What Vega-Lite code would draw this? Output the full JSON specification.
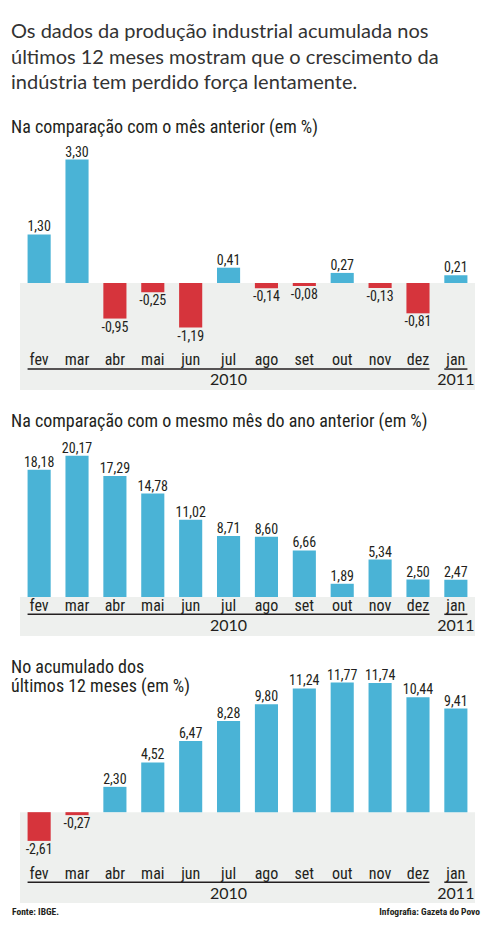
{
  "$schema": "https://vega.github.io/schema/vega-lite/v6.json",
  "padding": {"left": 11, "top": 22, "right": 2, "bottom": 4},
  "background": "white",
  "config": {
    "view": {"stroke": null},
    "locale": {"number": {"decimal": ",", "thousands": ".", "grouping": [3], "currency": ["R$", ""], "minus": "-"}},
    "concat": {"spacing": 23},
    "text": {"font": "Roboto Condensed, DejaVu Sans Condensed, Roboto, sans-serif", "color": "#231f20"}
  },
  "title": {
    "text": ["Os dados da produção industrial acumulada nos", "últimos 12 meses mostram que o crescimento da", "indústria tem perdido força lentamente."],
    "anchor": "start",
    "font": "Lato",
    "fontSize": 20,
    "fontWeight": "normal",
    "color": "#333333",
    "lineHeight": 25.5,
    "offset": 26
  },
  "datasets": {
    "mesAnterior": [
      {"mes": "fev", "valor": 1.30}, {"mes": "mar", "valor": 3.30}, {"mes": "abr", "valor": -0.95},
      {"mes": "mai", "valor": -0.25}, {"mes": "jun", "valor": -1.19}, {"mes": "jul", "valor": 0.41},
      {"mes": "ago", "valor": -0.14}, {"mes": "set", "valor": -0.08}, {"mes": "out", "valor": 0.27},
      {"mes": "nov", "valor": -0.13}, {"mes": "dez", "valor": -0.81}, {"mes": "jan", "valor": 0.21}
    ],
    "mesmoMes": [
      {"mes": "fev", "valor": 18.18}, {"mes": "mar", "valor": 20.17}, {"mes": "abr", "valor": 17.29},
      {"mes": "mai", "valor": 14.78}, {"mes": "jun", "valor": 11.02}, {"mes": "jul", "valor": 8.71},
      {"mes": "ago", "valor": 8.60}, {"mes": "set", "valor": 6.66}, {"mes": "out", "valor": 1.89},
      {"mes": "nov", "valor": 5.34}, {"mes": "dez", "valor": 2.50}, {"mes": "jan", "valor": 2.47}
    ],
    "acumulado": [
      {"mes": "fev", "valor": -2.61}, {"mes": "mar", "valor": -0.27}, {"mes": "abr", "valor": 2.30},
      {"mes": "mai", "valor": 4.52}, {"mes": "jun", "valor": 6.47}, {"mes": "jul", "valor": 8.28},
      {"mes": "ago", "valor": 9.80}, {"mes": "set", "valor": 11.24}, {"mes": "out", "valor": 11.77},
      {"mes": "nov", "valor": 11.74}, {"mes": "dez", "valor": 10.44}, {"mes": "jan", "valor": 9.41}
    ],
    "anos": [
      {"ano": "2010", "inicio": "fev", "fim": "dez", "centro": "jul"},
      {"ano": "2011", "inicio": "jan", "fim": "jan", "centro": "jan"}
    ],
    "rodape": [
      {"lado": "esquerda", "texto": "Fonte: IBGE."},
      {"lado": "direita", "texto": "Infografia: Gazeta do Povo"}
    ]
  },
  "vconcat": [
    {
      "title": {"text": "Na comparação com o mês anterior (em %)", "anchor": "start", "frame": "group", "dx": -9, "font": "Roboto Condensed, DejaVu Sans Condensed, Roboto, sans-serif", "fontSize": 18, "fontWeight": "normal", "color": "#231f20", "offset": 8},
      "width": 455,
      "height": 245,
      "data": {"name": "mesAnterior"},
      "layer": [
        {
          "data": {"values": [{"faixa": "negativos"}]},
          "mark": {"type": "rect", "color": "#eef0ee"},
          "encoding": {
            "y": {"datum": 0, "type": "quantitative", "scale": {"domain": [-2.86, 3.69], "nice": false, "zero": false}, "axis": null},
            "y2": {"datum": -2.86}
          }
        },
        {
          "mark": {"type": "bar"},
          "encoding": {
            "x": {"field": "mes", "type": "nominal", "scale": {"domain": ["fev","mar","abr","mai","jun","jul","ago","set","out","nov","dez","jan"], "paddingInner": 0.39, "paddingOuter": 0.2}, "axis": null},
            "y": {"field": "valor", "type": "quantitative", "scale": {"domain": [-2.86, 3.69], "nice": false, "zero": false}, "axis": null},
            "color": {"condition": {"test": "datum.valor < 0", "value": "#d6343c"}, "value": "#4ab3d6"}
          }
        },
        {
          "transform": [{"filter": "datum.valor >= 0"}],
          "mark": {"type": "text", "baseline": "alphabetic", "dy": -3, "fontSize": 14},
          "encoding": {
            "x": {"field": "mes", "type": "nominal"},
            "y": {"field": "valor", "type": "quantitative"},
            "text": {"field": "valor", "type": "quantitative", "format": ".2f"}
          }
        },
        {
          "transform": [{"filter": "datum.valor < 0"}],
          "mark": {"type": "text", "baseline": "top", "dy": 2, "fontSize": 14},
          "encoding": {
            "x": {"field": "mes", "type": "nominal"},
            "y": {"field": "valor", "type": "quantitative"},
            "text": {"field": "valor", "type": "quantitative", "format": ".2f"}
          }
        },
        {
          "mark": {"type": "text", "baseline": "alphabetic", "fontSize": 16},
          "encoding": {
            "x": {"field": "mes", "type": "nominal"},
            "y": {"datum": -2.19, "type": "quantitative"},
            "text": {"field": "mes", "type": "nominal"}
          }
        },
        {
          "data": {"name": "anos"},
          "mark": {"type": "rule", "strokeWidth": 1.5, "color": "#231f20"},
          "encoding": {
            "x": {"field": "inicio", "type": "nominal", "bandPosition": 0},
            "x2": {"field": "fim", "bandPosition": 1},
            "y": {"datum": -2.30, "type": "quantitative"}
          }
        },
        {
          "data": {"name": "anos"},
          "mark": {"type": "text", "baseline": "alphabetic", "fontSize": 16, "font": "Lato"},
          "encoding": {
            "x": {"field": "centro", "type": "nominal"},
            "y": {"datum": -2.73, "type": "quantitative"},
            "text": {"field": "ano", "type": "nominal"}
          }
        }
      ]
    },
    {
      "title": {"text": "Na comparação com o mesmo mês do ano anterior (em %)", "anchor": "start", "frame": "group", "dx": -9, "font": "Roboto Condensed, DejaVu Sans Condensed, Roboto, sans-serif", "fontSize": 18, "fontWeight": "normal", "color": "#231f20", "offset": 8},
      "width": 455,
      "height": 197,
      "data": {"name": "mesmoMes"},
      "layer": [
        {
          "data": {"values": [{"faixa": "negativos"}]},
          "mark": {"type": "rect", "color": "#eef0ee"},
          "encoding": {
            "y": {"datum": 0, "type": "quantitative", "scale": {"domain": [-5.57, 22.57], "nice": false, "zero": false}, "axis": null},
            "y2": {"datum": -5.57}
          }
        },
        {
          "mark": {"type": "bar"},
          "encoding": {
            "x": {"field": "mes", "type": "nominal", "scale": {"domain": ["fev","mar","abr","mai","jun","jul","ago","set","out","nov","dez","jan"], "paddingInner": 0.39, "paddingOuter": 0.2}, "axis": null},
            "y": {"field": "valor", "type": "quantitative", "scale": {"domain": [-5.57, 22.57], "nice": false, "zero": false}, "axis": null},
            "color": {"condition": {"test": "datum.valor < 0", "value": "#d6343c"}, "value": "#4ab3d6"}
          }
        },
        {
          "transform": [{"filter": "datum.valor >= 0"}],
          "mark": {"type": "text", "baseline": "alphabetic", "dy": -3, "fontSize": 14},
          "encoding": {
            "x": {"field": "mes", "type": "nominal"},
            "y": {"field": "valor", "type": "quantitative"},
            "text": {"field": "valor", "type": "quantitative", "format": ".2f"}
          }
        },
        {
          "mark": {"type": "text", "baseline": "alphabetic", "fontSize": 16},
          "encoding": {
            "x": {"field": "mes", "type": "nominal"},
            "y": {"datum": -2.0, "type": "quantitative"},
            "text": {"field": "mes", "type": "nominal"}
          }
        },
        {
          "data": {"name": "anos"},
          "mark": {"type": "rule", "strokeWidth": 1.5, "color": "#231f20"},
          "encoding": {
            "x": {"field": "inicio", "type": "nominal", "bandPosition": 0},
            "x2": {"field": "fim", "bandPosition": 1},
            "y": {"datum": -2.47, "type": "quantitative"}
          }
        },
        {
          "data": {"name": "anos"},
          "mark": {"type": "text", "baseline": "alphabetic", "fontSize": 16, "font": "Lato"},
          "encoding": {
            "x": {"field": "centro", "type": "nominal"},
            "y": {"datum": -4.86, "type": "quantitative"},
            "text": {"field": "ano", "type": "nominal"}
          }
        }
      ]
    },
    {
      "title": {"text": ["No acumulado dos", "últimos 12 meses (em %)"], "anchor": "start", "frame": "group", "dx": -9, "font": "Roboto Condensed, DejaVu Sans Condensed, Roboto, sans-serif", "fontSize": 18, "fontWeight": "normal", "color": "#231f20", "lineHeight": 19, "offset": -34},
      "width": 455,
      "height": 241,
      "resolve": {"scale": {"x": "independent"}},
      "layer": [
        {
          "data": {"name": "acumulado"},
          "layer": [
            {
              "data": {"values": [{"faixa": "negativos"}]},
              "mark": {"type": "rect", "color": "#eef0ee"},
              "encoding": {
                "y": {"datum": 0, "type": "quantitative", "scale": {"domain": [-8.25, 13.64], "nice": false, "zero": false}, "axis": null},
                "y2": {"datum": -8.25}
              }
            },
            {
              "mark": {"type": "bar"},
              "encoding": {
                "x": {"field": "mes", "type": "nominal", "scale": {"domain": ["fev","mar","abr","mai","jun","jul","ago","set","out","nov","dez","jan"], "paddingInner": 0.39, "paddingOuter": 0.2}, "axis": null},
                "y": {"field": "valor", "type": "quantitative", "scale": {"domain": [-8.25, 13.64], "nice": false, "zero": false}, "axis": null},
                "color": {"condition": {"test": "datum.valor < 0", "value": "#d6343c"}, "value": "#4ab3d6"}
              }
            },
            {
              "transform": [{"filter": "datum.valor >= 0"}],
              "mark": {"type": "text", "baseline": "alphabetic", "dy": -3, "fontSize": 14},
              "encoding": {
                "x": {"field": "mes", "type": "nominal"},
                "y": {"field": "valor", "type": "quantitative"},
                "text": {"field": "valor", "type": "quantitative", "format": ".2f"}
              }
            },
            {
              "transform": [{"filter": "datum.valor < 0"}],
              "mark": {"type": "text", "baseline": "top", "dy": 2, "fontSize": 14},
              "encoding": {
                "x": {"field": "mes", "type": "nominal"},
                "y": {"field": "valor", "type": "quantitative"},
                "text": {"field": "valor", "type": "quantitative", "format": ".2f"}
              }
            },
            {
              "mark": {"type": "text", "baseline": "alphabetic", "fontSize": 16},
              "encoding": {
                "x": {"field": "mes", "type": "nominal"},
                "y": {"datum": -6.09, "type": "quantitative"},
                "text": {"field": "mes", "type": "nominal"}
              }
            },
            {
              "data": {"name": "anos"},
              "mark": {"type": "rule", "strokeWidth": 1.5, "color": "#231f20"},
              "encoding": {
                "x": {"field": "inicio", "type": "nominal", "bandPosition": 0},
                "x2": {"field": "fim", "bandPosition": 1},
                "y": {"datum": -6.36, "type": "quantitative"}
              }
            },
            {
              "data": {"name": "anos"},
              "mark": {"type": "text", "baseline": "alphabetic", "fontSize": 16, "font": "Lato"},
              "encoding": {
                "x": {"field": "centro", "type": "nominal"},
                "y": {"datum": -7.91, "type": "quantitative"},
                "text": {"field": "ano", "type": "nominal"}
              }
            }
          ]
        },
        {
          "data": {"name": "rodape"},
          "layer": [
            {
              "transform": [{"filter": "datum.lado == 'esquerda'"}],
              "mark": {"type": "text", "align": "left", "baseline": "alphabetic", "dx": -8, "fontSize": 9.5, "fontWeight": "bold"},
              "encoding": {
                "x": {"field": "lado", "type": "nominal", "scale": {"type": "point", "domain": ["esquerda", "direita"], "padding": 0}, "axis": null},
                "y": {"datum": -9.3, "type": "quantitative"},
                "text": {"field": "texto", "type": "nominal"}
              }
            },
            {
              "transform": [{"filter": "datum.lado == 'direita'"}],
              "mark": {"type": "text", "align": "right", "baseline": "alphabetic", "dx": 5, "fontSize": 9.5, "fontWeight": "bold"},
              "encoding": {
                "x": {"field": "lado", "type": "nominal", "scale": {"type": "point", "domain": ["esquerda", "direita"], "padding": 0}, "axis": null},
                "y": {"datum": -9.3, "type": "quantitative"},
                "text": {"field": "texto", "type": "nominal"}
              }
            }
          ]
        }
      ]
    }
  ]
}
